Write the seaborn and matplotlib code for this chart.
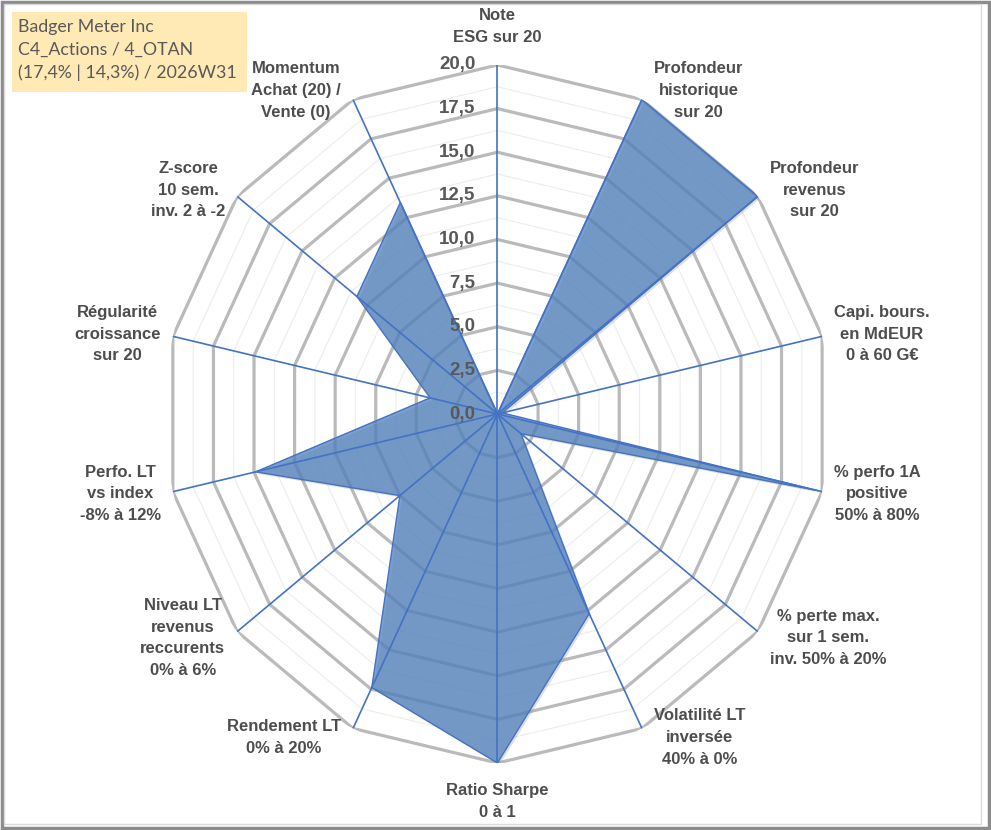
import numpy as np
import seaborn as sns
import matplotlib.pyplot as plt
import matplotlib.patheffects as pe
from matplotlib.patches import Rectangle

categories = [
    "Note\nESG sur 20",
    "Profondeur\nhistorique\nsur 20",
    "Profondeur\nrevenus\nsur 20",
    "Capi. bours.\nen MdEUR\n0 à 60 G€",
    "% perfo 1A\npositive\n50% à 80%",
    "% perte max.\nsur 1 sem.\ninv. 50% à 20%",
    "Volatilité LT\ninversée\n40% à 0%",
    "Ratio Sharpe\n0 à 1",
    "Rendement LT\n0% à 20%",
    "Niveau LT\nrevenus\nreccurents\n0% à 6%",
    "Perfo. LT\nvs index\n-8% à 12%",
    "Régularité\ncroissance\nsur 20",
    "Z-score\n10 sem.\ninv. 2 à -2",
    "Momentum\nAchat (20) /\nVente (0)",
]
scores = [0, 20, 20, 0.3, 19.8, 1.8, 12.7, 20, 17.4, 7.5, 14.9, 4.15, 10.8, 13.45]
ring_ticks = [0, 2.5, 5, 7.5, 10, 12.5, 15, 17.5, 20]
minor_rings = [1.25, 3.75, 6.25, 8.75, 11.25, 13.75, 16.25, 18.75]
title_lines = ["Badger Meter Inc", "C4_Actions / 4_OTAN", "(17,4% | 14,3%) / 2026W31"]

sns.set_theme(style="white")
plt.rcParams['font.family'] = ['Liberation Sans', 'DejaVu Sans']

n = len(categories)
angles = np.linspace(0, 2 * np.pi, n, endpoint=False)
closed = np.append(angles, angles[0])

fig = plt.figure(figsize=(9.91, 8.3), dpi=100)
ax = fig.add_axes([0.166, 0.0807, 0.672, 0.841], projection='polar')
ax.set_aspect('auto')
ax.set_theta_zero_location('N')
ax.set_theta_direction(-1)
ax.set_ylim(0, 20)
ax.set_xticks([])
ax.set_yticks([])
ax.grid(False)
ax.spines['polar'].set_visible(False)
ax.patch.set_visible(False)

# polygon grid
for r in minor_rings:
    ax.plot(closed, [r] * (n + 1), color='#ECECEC', lw=0.8, zorder=1)
for r in ring_ticks[1:]:
    ax.plot(closed, [r] * (n + 1), color='#BABABA', lw=2.3, zorder=2)

vals = np.append(scores, scores[0])
poly = ax.fill(closed, vals, color='#4F81BD', alpha=0.75, zorder=3, lw=0)[0]
poly.set_path_effects([pe.SimplePatchShadow(offset=(1.5, -1.5), shadow_rgbFace='#808080', alpha=0.25),
                       pe.Normal()])
ax.plot(closed, vals, color='#4472C4', lw=1.0, zorder=4)

for a in angles:
    ax.plot([a, a], [0, 20], color='#4472C4', lw=1.2, zorder=5)

for r in ring_ticks:
    ax.annotate(f"{r:.1f}".replace('.', ','), xy=(0, r), xytext=(-22, 0),
                textcoords='offset pixels', ha='right', va='center',
                fontsize=13.5, fontweight='bold', color='#595959', zorder=6)

for a, lab in zip(angles, categories):
    s, c = np.sin(a), np.cos(a)
    if abs(s) < 0.1:
        ha = 'center'
        va = 'bottom' if c > 0 else 'top'
        off = (0, 20 * np.sign(c))
    else:
        ha = 'left' if s > 0 else 'right'
        va = 'center'
        off = (12 * np.sign(s), 10 * c)
    ax.annotate(lab, xy=(a, 20), xytext=off, textcoords='offset pixels',
                ha=ha, va=va, multialignment='center', fontsize=12,
                fontweight='bold', color='#4D4D4D', linespacing=1.55)

# info box
fig.patches.append(Rectangle((12 / 991, 1 - 92 / 830), 235 / 991, 80 / 830,
                             transform=fig.transFigure, facecolor='#FFE9B5',
                             edgecolor='none', zorder=0))
fig.text(18 / 991, 1 - 19 / 830, "\n".join(title_lines), ha='left', va='top',
         fontsize=12.8, color='#595959', family=['Lato', 'DejaVu Sans'], linespacing=1.5)

# frame
fig.patches.append(Rectangle((0.002, 0.002), 0.996, 0.996, transform=fig.transFigure,
                             fill=False, edgecolor='#8C8C8C', lw=2.5))
fig.patches.append(Rectangle((4 / 991, 6 / 830), 977 / 991, 820 / 830,
                             transform=fig.transFigure, fill=False,
                             edgecolor='#D9D9D9', lw=1))

fig.savefig("out.png", dpi=100)
